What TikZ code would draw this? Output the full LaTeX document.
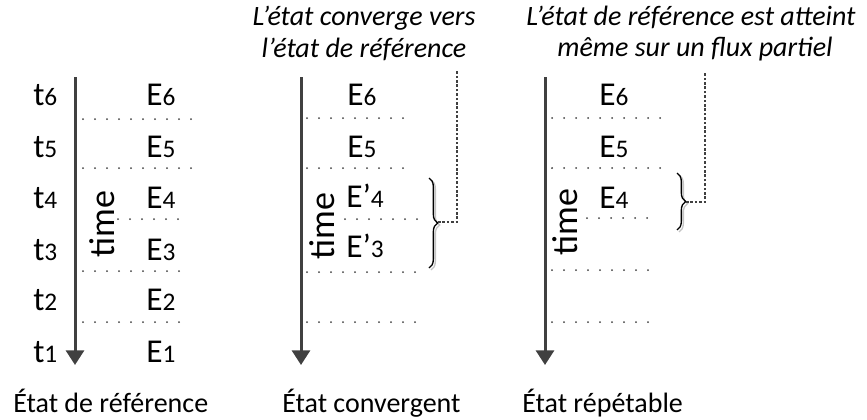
\documentclass[tikz,border=0pt]{standalone}
\usepackage{fontspec}
\setmainfont{Carlito}
\usetikzlibrary{arrows.meta, decorations.pathreplacing}
\definecolor{axisgray}{HTML}{404040}
\definecolor{shadowgray}{HTML}{C4C4C4}
\newcommand{\sublbl}[2]{#1{\fontsize{19}{19}\selectfont #2}}

\begin{document}
\begin{tikzpicture}[x=0.75pt, y=-0.75pt,
    every node/.style={inner sep=0pt},
    statelbl/.style={anchor=base west, font=\fontsize{25}{29}\selectfont},
    timelbl/.style={rotate=90, font=\fontsize{27}{31}\selectfont},
    titlelbl/.style={anchor=base, font=\fontsize{21}{25}\selectfont\itshape},
    caption/.style={anchor=base west, font=\fontsize{21}{25}\selectfont},
    timeline/.style={draw=axisgray, line width=2.25pt, -{Triangle[width=13.5pt, length=11pt]}},
    dots/.style={draw=axisgray, line width=1.5pt, line cap=round, dash pattern=on 0pt off 9pt},
    bracket/.style={decorate, decoration={brace, amplitude=6.5pt}, line width=1pt},
    link/.style={draw=axisgray, line width=1.1pt, dash pattern=on 2pt off 1.3pt}]
    \useasboundingbox (0,0) rectangle (867,419);

    % etat de reference
    \draw[timeline] (75,77) -- (75,365);
    \foreach \k/\yb in {6/105, 5/157, 4/208, 3/260, 2/310, 1/362} {
        \node[statelbl] (tA\k) at (33,\yb) {\sublbl{t}{\k}};
        \node[statelbl] (eA\k) at (146,\yb) {\sublbl{E}{\k}};
    }
    \node[timelbl] (timeA) at (102,224) {time};
    \draw[dots] (83,119) -- (195,119);
    \draw[dots] (83,168) -- (195,168);
    \draw[dots] (118,219) -- (183,219);
    \draw[dots] (83,271) -- (183,271);
    \draw[dots] (83,322) -- (183,322);
    \node[caption] (capA) at (13,412) {État de référence};

    % etat convergent
    \node[titlelbl] (titleB1) at (364,25) {L’état converge vers};
    \node[titlelbl] (titleB2) at (364,57) {l’état de référence};
    \draw[timeline] (301,77) -- (301,365);
    \node[statelbl] (eB6) at (347,105) {\sublbl{E}{6}};
    \node[statelbl] (eB5) at (347,157) {\sublbl{E}{5}};
    \node[statelbl] (eB4) at (346,207) {\sublbl{E’}{4}};
    \node[statelbl] (eB3) at (346,257) {\sublbl{E’}{3}};
    \node[timelbl] (timeB) at (322,226) {time};
    \draw[dots] (307,118) -- (408,118);
    \draw[dots] (307,168) -- (408,168);
    \draw[dots] (345,219) -- (420,219);
    \draw[dots] (307,272) -- (420,272);
    \draw[dots] (307,322) -- (420,322);
    \draw[bracket, draw=shadowgray] (431,180) -- (431,270);
    \draw[bracket, draw=black] (429,178) -- (429,268);
    \coordinate (tipB) at (438,222);
    \coordinate (bendB) at (457,70);
    \draw[link] (tipB) -| (bendB);
    \node[caption] (capB) at (282,412) {État convergent};

    % etat repetable
    \node[titlelbl] (titleC1) at (691,25) {L’état de référence est atteint};
    \node[titlelbl] (titleC2) at (695,56) {même sur un flux partiel};
    \draw[timeline] (545,77) -- (545,365);
    \node[statelbl] (eC6) at (599,105) {\sublbl{E}{6}};
    \node[statelbl] (eC5) at (599,157) {\sublbl{E}{5}};
    \node[statelbl] (eC4) at (599,208) {\sublbl{E}{4}};
    \node[timelbl] (timeC) at (565,222) {time};
    \draw[dots] (552,118) -- (665,118);
    \draw[dots] (552,168) -- (665,168);
    \draw[dots] (587,218) -- (653,218);
    \draw[dots] (552,270) -- (653,270);
    \draw[dots] (552,322) -- (653,322);
    \draw[bracket, draw=shadowgray] (679,175) -- (679,232);
    \draw[bracket, draw=black] (677,173) -- (677,230);
    \coordinate (tipC) at (686,202);
    \coordinate (bendC) at (705,72);
    \draw[link] (tipC) -| (bendC);
    \node[caption] (capC) at (522,412) {État répétable};
\end{tikzpicture}
\end{document}
